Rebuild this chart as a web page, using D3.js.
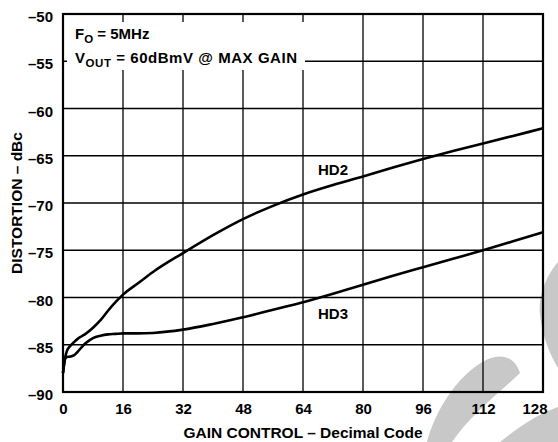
<!DOCTYPE html>
<html>
<head>
<meta charset="utf-8">
<script src="https://cdn.jsdelivr.net/npm/d3@7"></script>
<style>
    body { margin: 0; background: #fff; }
    text { font-family: "Liberation Sans", Arial, sans-serif; font-weight: bold; fill: #000; }
</style>
</head>
<body>
<div id="chart"></div>
<script>
// DATA
const gainCodes = [0, 0.5, 1, 2, 3, 4, 5, 6, 8, 10, 12, 14, 16, 20, 24, 32, 40, 48, 56, 64, 72, 80, 88, 96, 104, 112, 120, 128];
const hd2 = [-88.0, -86.5, -85.7, -85.1, -84.7, -84.35, -84.1, -83.85, -83.2, -82.4, -81.4, -80.5, -79.7, -78.5, -77.3, -75.3, -73.4, -71.7, -70.3, -69.1, -68.1, -67.2, -66.25, -65.35, -64.5, -63.7, -62.9, -62.1];
const hd3 = [-88.0, -86.6, -86.3, -86.25, -86.1, -85.7, -85.25, -84.85, -84.3, -84.05, -83.9, -83.85, -83.8, -83.8, -83.75, -83.4, -82.8, -82.1, -81.3, -80.5, -79.6, -78.65, -77.7, -76.8, -75.9, -75.0, -74.05, -73.1];
const xTicks = [0, 16, 32, 48, 64, 80, 96, 112, 128];
const yTicks = [-50, -55, -60, -65, -70, -75, -80, -85, -90];

const WIDTH = 558, HEIGHT = 442;
const MARGIN = { top: 14, right: 15, bottom: 50, left: 63 };
const gWIDTH = WIDTH - MARGIN.left - MARGIN.right;
const gHEIGHT = HEIGHT - MARGIN.top - MARGIN.bottom;

const svg = d3.select('#chart').append('svg')
    .attr('width', WIDTH)
    .attr('height', HEIGHT);

// WATERMARK (decoration behind the plot)
const wm = svg.append('g').attr('fill', '#c8c8c8');
wm.append('path').attr('d', 'M558,262 C546,276 538,296 540,315 C542,335 550,355 558,368 Z');
wm.append('path').attr('d', 'M427,442 C434,415 455,375 488,359 C500,354 514,355 520,373 C500,392 470,415 452,442 Z');
wm.append('path').attr('d', 'M500,442 C515,430 535,415 558,407 L558,442 Z');

const g = svg.append('g')
    .attr('transform', `translate(${MARGIN.left},${MARGIN.top})`);

// SCALES
const x = d3.scaleLinear().domain([0, 128]).range([0, gWIDTH]);
const y = d3.scaleLinear().domain([-90, -50]).range([gHEIGHT, 0]);

// GRID
g.append('g').selectAll('line')
    .data(xTicks)
    .join('line')
    .attr('x1', d => x(d)).attr('x2', d => x(d))
    .attr('y1', 0).attr('y2', gHEIGHT)
    .attr('stroke', '#000').attr('stroke-width', 1.3);

g.append('g').selectAll('line')
    .data(yTicks)
    .join('line')
    .attr('x1', 0).attr('x2', gWIDTH)
    .attr('y1', d => y(d)).attr('y2', d => y(d))
    .attr('stroke', '#000').attr('stroke-width', 1.3);

// BORDER
g.append('rect')
    .attr('width', gWIDTH).attr('height', gHEIGHT)
    .attr('fill', 'none').attr('stroke', '#000').attr('stroke-width', 2.2);

// AXIS LABELS (ticks hidden, just the text)
const xAxis = g.append('g')
    .attr('transform', `translate(0,${gHEIGHT})`)
    .call(d3.axisBottom(x).tickValues(xTicks).tickSize(0).tickPadding(11));
const yAxis = g.append('g')
    .call(d3.axisLeft(y).tickValues(yTicks).tickSize(0).tickPadding(10).tickFormat(d => '–' + Math.abs(d)));
[xAxis, yAxis].forEach(a => {
    a.select('.domain').remove();
    a.selectAll('text')
        .attr('fill', '#000')
        .style('font-family', '"Liberation Sans", Arial, sans-serif')
        .style('font-weight', 'bold')
        .style('font-size', '15px');
});
yAxis.selectAll('text').attr('dy', '0.5em');
xAxis.selectAll('text').attr('dy', '0.75em');
// last label pulled inside like the original
xAxis.selectAll('text').filter(d => d === 128)
    .attr('text-anchor', 'end')
    .attr('x', 4);

// ANNOTATION BOX
g.append('rect')
    .attr('x', 4).attr('y', 8)
    .attr('width', 238).attr('height', 48)
    .attr('fill', '#fff');

const note = g.append('text').style('font-size', '15px');
note.append('tspan').attr('x', 12).attr('y', 25).text('F');
note.append('tspan').attr('dy', 4).style('font-size', '11.5px').text('O');
note.append('tspan').attr('dy', -4).text(' = 5MHz');
const note2 = g.append('text').style('font-size', '15px').style('letter-spacing', '0.55px');
note2.append('tspan').attr('x', 12).attr('y', 49).text('V');
note2.append('tspan').attr('dy', 4).style('font-size', '11.5px').text('OUT');
note2.append('tspan').attr('dy', -4).text(' = 60dBmV @ MAX GAIN');

// CURVES
const line = d3.line()
    .x(d => x(d[0]))
    .y(d => y(d[1]))
    .curve(d3.curveMonotoneX);

[hd2, hd3].forEach(series => {
    g.append('path')
        .datum(gainCodes.map((c, i) => [c, series[i]]))
        .attr('d', line)
        .attr('fill', 'none')
        .attr('stroke', '#000')
        .attr('stroke-width', 2.6);
});

// SERIES LABELS
g.append('text').attr('x', x(68)).attr('y', y(-67.0)).style('font-size', '15px').text('HD2');
g.append('text').attr('x', x(68)).attr('y', y(-82.3)).style('font-size', '15px').text('HD3');

// AXIS TITLES
svg.append('text')
    .attr('x', MARGIN.left + gWIDTH / 2)
    .attr('y', 438)
    .attr('text-anchor', 'middle')
    .style('font-size', '15.5px')
    .text('GAIN CONTROL – Decimal Code');

svg.append('text')
    .attr('transform', `translate(22,${MARGIN.top + gHEIGHT / 2}) rotate(-90)`)
    .attr('text-anchor', 'middle')
    .style('font-size', '15.5px')
    .text('DISTORTION – dBc');
</script>
</body>
</html>
